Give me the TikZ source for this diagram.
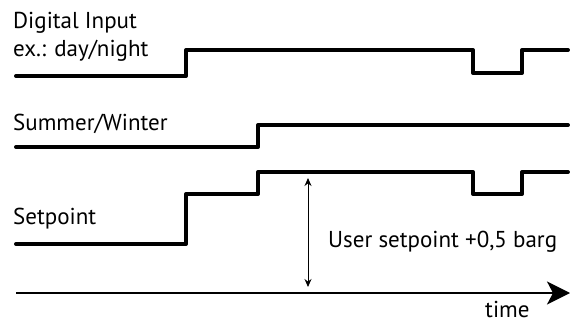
\documentclass[tikz,border=0pt]{standalone}
\usepackage{fontspec}
\setmainfont{PT Sans}
\usetikzlibrary{arrows.meta}
\begin{document}
\begin{tikzpicture}[x=1pt,y=-1pt,
  sig/.style={line width=4pt, line join=round, line cap=round},
  axisline/.style={line width=2pt, -{Stealth[length=23pt,width=23pt,inset=6pt]}},
  dim/.style={line width=1pt, {Stealth[length=8pt,width=7pt]}-{Stealth[length=8pt,width=7pt]}},
  lbl/.style={anchor=base west, inner sep=0pt, font=\fontsize{23}{27}\selectfont}]
\useasboundingbox (0,0) rectangle (570,323);
% labels
\node[lbl] (di1) at (13,29) {Digital Input};
\node[lbl] (di2) at (13,57) {ex.: day/night};
\node[lbl] (sw) at (13,131) {Summer/Winter};
\node[lbl] (sp) at (13,224) {Setpoint};
\node[lbl] (us) at (328,247) {User setpoint +0,5 barg};
\node[lbl] (tm) at (485,317) {time};
% signals
\draw[sig] (16,76) -- (186,76) -- (186,50) -- (473,50) -- (473,73) -- (522,73) -- (522,50) -- (568,50);
\draw[sig] (16,147) -- (258,147) -- (258,125) -- (568,125);
\draw[sig] (16,244) -- (186,244) -- (186,194) -- (258,194) -- (258,172) -- (473,172) -- (473,194) -- (522,194) -- (522,172) -- (568,172);
% axis
\coordinate (a0) at (16,293);
\coordinate (a1) at (570,293);
\draw[axisline] (a0) -- (a1);
% dimension arrow
\coordinate (d0) at (308,178);
\coordinate (d1) at (308,287);
\draw[dim] (d0) -- (d1);
\end{tikzpicture}
\end{document}
